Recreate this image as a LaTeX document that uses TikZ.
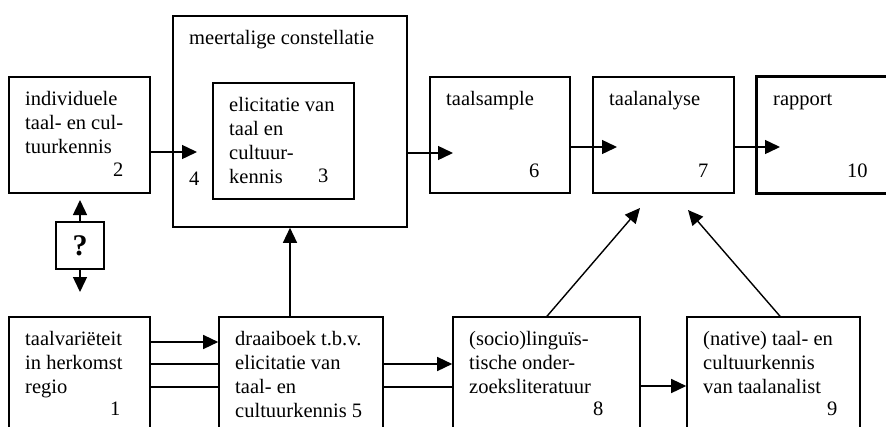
\documentclass[tikz,border=0pt]{standalone}
\usepackage{fontspec}
\setmainfont{Liberation Serif}
\usetikzlibrary{positioning, calc, arrows.meta}
\definecolor{ink}{HTML}{000000}
\newcommand{\BoxF}{\fontsize{20.5}{24}\selectfont}
\newcommand{\AskF}{\fontsize{30}{34}\selectfont}
\newcommand{\panel}[6]{%
  \node[panel, minimum width={#4pt-#2pt}, minimum height={#5pt-#3pt}] (#1) at ({(#2+#4)/2},{(#3+#5)/2}) {};
  \node[txt] (#1-t) at (#2+16,#3+11) {\strut #6};
}

\begin{document}
\begin{tikzpicture}[x=1pt,y=-1pt,
  panel/.style={draw=ink, line width=1.6pt, inner sep=0pt},
  txt/.style={anchor=north west, align=left, inner sep=0pt, font=\BoxF, text=ink},
  num/.style={anchor=base west, inner sep=0pt, font=\BoxF, text=ink},
  arr/.style={draw=ink, line width=1.4pt, -{Triangle[length=15pt,width=14pt]}},
  link/.style={draw=ink, line width=1.4pt}]
\useasboundingbox (0,0) rectangle (886,426);
\clip (0,0) rectangle (886,426);
% top row
\panel{indiv}{9}{77}{150}{193}{individuele\\taal- en cul-\\tuurkennis}
\panel{meer}{173}{16}{407}{227}{meertalige constellatie}
\panel{elic}{213}{83}{354}{199}{elicitatie van\\taal en\\cultuur-\\kennis}
\panel{sample}{430}{77}{570}{193}{taalsample}
\panel{anal}{593}{77}{734}{193}{taalanalyse}
\panel{rapp}{757}{77}{900}{193}{rapport}
\draw[draw=ink, line width=2.6pt] (rapp.north west) rectangle (rapp.south east);
\node[num] (n2) at (113,176) {2};
\node[num] (n3) at (318,182) {3};
\node[num] (n4) at (189,185) {4};
\node[num] (n6) at (529,177) {6};
\node[num] (n7) at (698,177) {7};
\node[num] (n10) at (847,177) {10};
% question box
\node[panel, minimum width=48pt, minimum height=47pt, font=\AskF\bfseries] (q) at (80,245.5) {?};
% bottom row
\panel{var}{9}{317}{150}{445}{taalvari\"eteit\\in herkomst\\regio}
\panel{draai}{219}{317}{383}{445}{draaiboek t.b.v.\\elicitatie van\\taal- en\\cultuurkennis 5}
\panel{soc}{453}{317}{640}{445}{(socio)lingu\"is-\\tische onder-\\zoeksliteratuur}
\panel{nat}{687}{317}{860}{445}{(native) taal- en\\cultuurkennis\\van taalanalist}
\node[num] (n1) at (110,415) {1};
\node[num] (n8) at (593,415) {8};
\node[num] (n9) at (827,415) {9};
% connectors
\coordinate (in4) at (197,152);
\coordinate (in6) at (453,153);
\coordinate (in7) at (617,147);
\coordinate (in10) at (780,147);
\coordinate (qup) at (80,200);
\coordinate (qdn) at (80,292);
\coordinate (to7a) at (640,208);
\coordinate (to7b) at (688,210);
\draw[arr] (indiv.east |- in4) -- (in4);
\draw[arr] (meer.east |- in6) -- (in6);
\draw[arr] (sample.east |- in7) -- (in7);
\draw[arr] (anal.east |- in10) -- (in10);
\draw[arr] (q.north) -- (qup);
\draw[arr] (q.south) -- (qdn);
\draw[arr] (var.east |- 0,342) -- (draai.west |- 0,342);
\draw[link] (var.east |- 0,364) -- (draai.west |- 0,364);
\draw[link] (var.east |- 0,387) -- (draai.west |- 0,387);
\draw[arr] (draai.north -| 290,0) -- (meer.south -| 290,0);
\draw[arr] (draai.east |- 0,364) -- (soc.west |- 0,364);
\draw[link] (draai.east |- 0,387) -- (soc.west |- 0,387);
\draw[arr] (soc.east |- 0,386) -- (nat.west |- 0,386);
\draw[arr] (soc.north -| 547,0) -- (to7a);
\draw[arr] (nat.north -| 780,0) -- (to7b);
\end{tikzpicture}
\end{document}
